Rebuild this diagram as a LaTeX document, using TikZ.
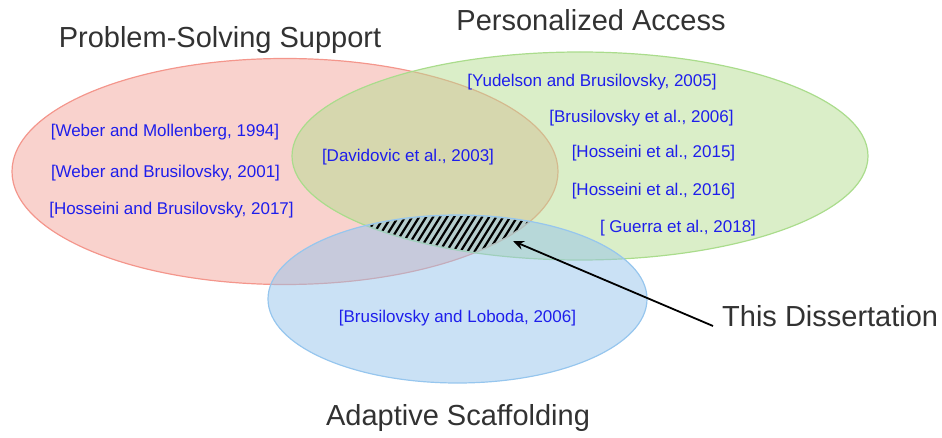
\documentclass[tikz,border=0pt]{standalone}
\usepackage{fontspec}
\setmainfont{Liberation Sans}
\usetikzlibrary{shapes.geometric,arrows.meta}
\definecolor{redfill}{RGB}{243,165,155}
\definecolor{redline}{RGB}{244,150,140}
\definecolor{greenfill}{RGB}{181,221,145}
\definecolor{greenline}{RGB}{170,220,140}
\definecolor{bluefill}{RGB}{150,195,235}
\definecolor{blueline}{RGB}{150,198,238}
\definecolor{citeblue}{RGB}{30,30,235}
\definecolor{titlegray}{RGB}{50,50,50}
\tikzset{
  setellipse/.style={ellipse, inner sep=0pt, fill opacity=0.5, line width=1.2pt},
  settitle/.style={text=titlegray, font=\fontsize{29}{34}\selectfont, inner sep=0pt},
  cite/.style={text=citeblue, font=\fontsize{17}{20}\selectfont, inner sep=0pt},
  hatchline/.style={line width=2.2pt, black},
  pointer/.style={line width=1.8pt, black, -{Stealth[length=11pt,width=9pt]}}
}
\begin{document}
\begin{tikzpicture}[x=1pt,y=-1pt]
\useasboundingbox (0,0) rectangle (942,438);
% ellipses
\node[setellipse, fill=redfill, draw=redline, minimum width=546pt, minimum height=226pt] (ps) at (285,171.5) {};
\node[setellipse, fill=greenfill, draw=greenline, minimum width=576pt, minimum height=208pt] (pa) at (580,156) {};
\node[setellipse, fill=bluefill, draw=blueline, minimum width=379pt, minimum height=168pt] (as) at (457.5,299) {};
% hatch in triple intersection
\begin{scope}
  \clip (285,171.5) ellipse [x radius=272pt, y radius=112pt];
  \clip (580,156) ellipse [x radius=287pt, y radius=103pt];
  \clip (457.5,299) ellipse [x radius=188.5pt, y radius=83pt];
  \foreach \x in {300,307,...,560} {
    \draw[hatchline] (\x,262) -- ++(40,-64);
  }
\end{scope}
% titles
\node[settitle] (tps) at (220,40) {Problem-Solving Support};
\node[settitle] (tpa) at (591,20) {Personalized Access};
\node[settitle] (tas) at (458,418) {Adaptive Scaffolding};
\node[settitle, anchor=west] (diss) at (722,316) {This Dissertation};
% citations
\node[cite] (c1) at (165,132) {[Weber and Mollenberg, 1994]};
\node[cite] (c2) at (165.5,173) {[Weber and Brusilovsky, 2001]};
\node[cite] (c3) at (171.5,210) {[Hosseini and Brusilovsky, 2017]};
\node[cite] (c4) at (408,157) {[Davidovic et al., 2003]};
\node[cite] (c5) at (592,82) {[Yudelson and Brusilovsky, 2005]};
\node[cite] (c6) at (641.5,118) {[Brusilovsky et al., 2006]};
\node[cite] (c7) at (653.5,153) {[Hosseini et al., 2015]};
\node[cite] (c8) at (653.5,191) {[Hosseini et al., 2016]};
\node[cite] (c9) at (678,228) {[ Guerra et al., 2018]};
\node[cite] (c10) at (457.5,318) {[Brusilovsky and Loboda, 2006]};
% arrow
\coordinate (hatchpt) at (513,241);
\draw[pointer] ([xshift=-9pt,yshift=-10pt]diss.west) -- (hatchpt);
\end{tikzpicture}
\end{document}
